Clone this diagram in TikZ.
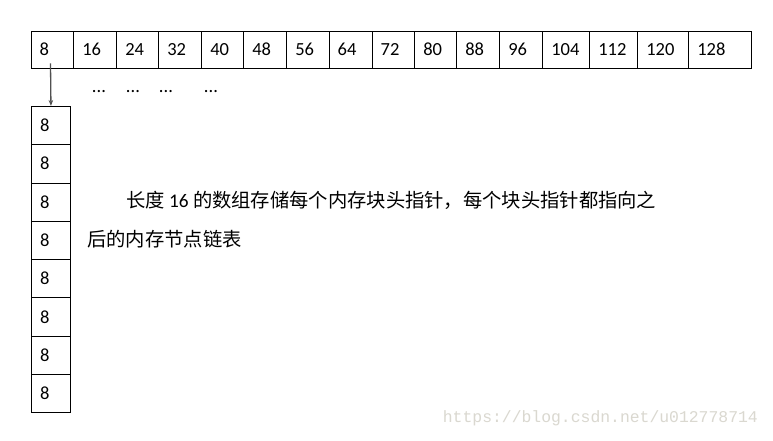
\documentclass[tikz,border=0pt]{standalone}
\usepackage{fontspec}
\setmainfont{Carlito}
\newfontfamily\cjk{Noto Sans CJK SC}
\newfontfamily\wmfont{Liberation Mono}
\usetikzlibrary{arrows.meta}
\definecolor{wmgray}{RGB}{218,216,208}
\definecolor{arrgray}{RGB}{80,80,80}
\begin{document}
\begin{tikzpicture}[x=1pt,y=-1pt,
  cell/.style={draw=black, line width=0.9pt, rectangle, anchor=north west,
    inner ysep=0pt, align=left, font=\fontsize{18.5}{22}\selectfont,
    text height=12pt, text depth=0pt},
  dots/.style={anchor=base, inner sep=0pt, font=\fontsize{18.5}{22}\selectfont},
  para/.style={anchor=west, inner sep=0pt, font=\cjk\fontsize{19.3}{24}\selectfont},
  arr/.style={draw=arrgray, line width=1.3pt, -{Stealth[length=6pt,width=4.5pt]}}]
\useasboundingbox[fill=white] (0,0) rectangle (773,440);
% top row
\foreach \x/\w/\l [count=\i] in {30.7/42.6/8, 73.3/43/16, 116.3/42/24, 158.3/43/32,
  201.3/42/40, 243.3/43/48, 286.3/42.4/56, 328.7/43/64, 371.7/42.6/72,
  414.3/42/80, 456.3/43/88, 499.3/43/96, 542.3/47/104, 589.3/48/112,
  637.3/51/120, 688.3/63/128}{
  \pgfmathsetmacro\tw{\w-17}
  \node[cell, inner xsep=8.5pt, text width=\tw pt, minimum height=37.6pt] (t\i) at (\x,30.7) {\l};
}
% column
\foreach \i in {1,...,8}{
  \pgfmathsetmacro\yy{106+(\i-1)*38.29}
  \node[cell, inner xsep=9pt, text width=21.6pt, minimum height=38.29pt] (c\i) at (30.7,\yy) {8};
}
% dots
\node[dots] (d1) at (99,92) {...};
\node[dots] (d2) at (133,92) {...};
\node[dots] (d3) at (166,92) {...};
\node[dots] (d4) at (211,92) {...};
% arrow
\coordinate (s) at (50.5,63.3);
\draw[arr] (s) -- (c1.north);
% paragraph
\node[para] (p1) at (126,200) {长度 {\rmfamily 16} 的数组存储每个内存块头指针，每个块头指针都指向之};
\node[para] (p2) at (87,239) {后的内存节点链表};
% watermark
\node[anchor=west, inner sep=0pt, font=\wmfont\fontsize{16.4}{18}\selectfont, text=wmgray] (wm) at (442.7,418) {https://blog.csdn.net/u012778714};
\end{tikzpicture}
\end{document}
